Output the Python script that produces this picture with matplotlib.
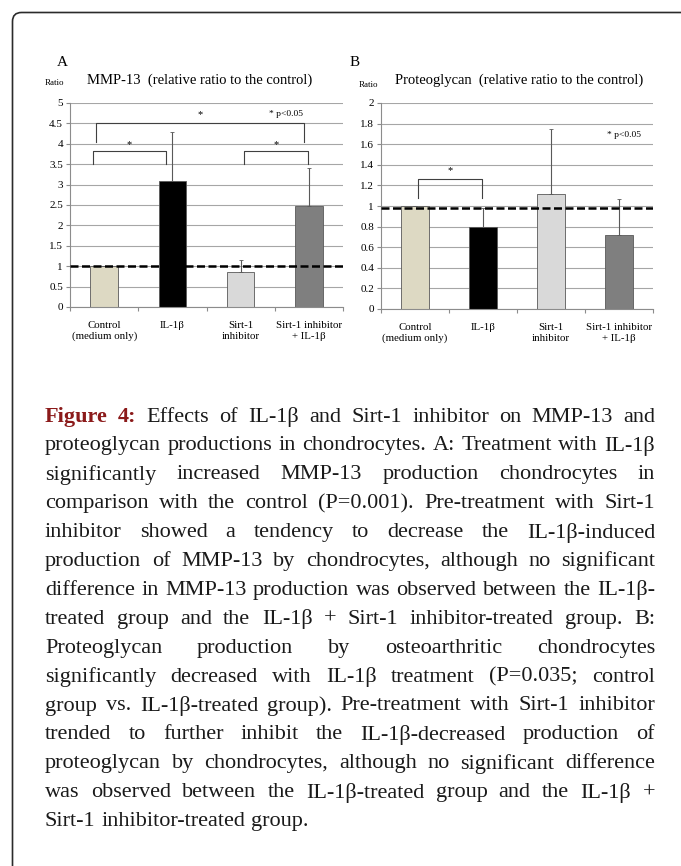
import numpy as np
import matplotlib
matplotlib.use("Agg")
import matplotlib.pyplot as plt
from matplotlib.patches import FancyBboxPatch
from matplotlib.transforms import IdentityTransform
from matplotlib.ticker import FixedLocator

# ── data ──────────────────────────────────────────────────────────────
categories = ["Control\n(medium only)", "IL-1β", "Sirt-1\ninhibitor", "Sirt-1 inhibitor\n+ IL-1β"]
bar_colors = ["#ddd9c3", "#000000", "#d9d9d9", "#7f7f7f"]

mmp_mean = [1.0, 3.1, 0.87, 2.48]
mmp_err = [0.0, 1.2, 0.28, 0.92]
pg_mean = [1.0, 0.80, 1.12, 0.72]
pg_err = [0.0, 0.18, 0.63, 0.35]

caption_lines = [
    "Figure 4: Effects of IL-1β and Sirt-1 inhibitor on MMP-13 and",
    "proteoglycan productions in chondrocytes. A: Treatment with IL-1β",
    "significantly increased MMP-13 production chondrocytes in",
    "comparison with the control (P=0.001). Pre-treatment with Sirt-1",
    "inhibitor showed a tendency to decrease the IL-1β-induced",
    "production of MMP-13 by chondrocytes, although no significant",
    "difference in MMP-13 production was observed between the IL-1β-",
    "treated group and the IL-1β + Sirt-1 inhibitor-treated group. B:",
    "Proteoglycan production by osteoarthritic chondrocytes",
    "significantly decreased with IL-1β treatment (P=0.035; control",
    "group vs. IL-1β-treated group). Pre-treatment with Sirt-1 inhibitor",
    "trended to further inhibit the IL-1β-decreased production of",
    "proteoglycan by chondrocytes, although no significant difference",
    "was observed between the IL-1β-treated group and the IL-1β +",
    "Sirt-1 inhibitor-treated group.",
]

# ── style ─────────────────────────────────────────────────────────────
SERIF = "Liberation Serif"
plt.rcParams["font.family"] = [SERIF, "DejaVu Serif"]
GRID = "#a6a6a6"
AXIS = "#8c8c8c"

W, H = 681, 866
fig = plt.figure(figsize=(W / 100, H / 100), dpi=100, facecolor="white")


def fx(px):
    return px / W


def fy(py):
    return 1 - py / H


# rounded frame (only top-left corner visible)
frame = FancyBboxPatch((12.5, -200), 900, H - 12.5 + 200,
                       boxstyle="round,pad=0,rounding_size=9",
                       transform=IdentityTransform(), fill=False,
                       edgecolor="#2b2b2b", linewidth=1.2)
fig.add_artist(frame)


def panel(ax, means, errs, ymax, step, dash_y):
    x = np.arange(len(categories))
    ax.set_axisbelow(True)
    ax.yaxis.grid(True, color=GRID, linewidth=0.8)
    ax.bar(x, means, width=0.4, color=bar_colors, edgecolor="#595959",
           linewidth=0.6, zorder=2)
    ax.errorbar(x, means, yerr=[np.zeros(len(errs)), errs], fmt="none",
                ecolor="#595959", elinewidth=0.8, capsize=1.5, capthick=0.6,
                zorder=3)
    ax.axhline(dash_y, color="black", linewidth=1.8, dashes=(3.2, 1.4), zorder=4)
    ax.set_xlim(-0.5, 3.5)
    ax.set_ylim(0, ymax)
    ticks = np.round(np.arange(0, ymax + step / 2, step), 2)
    ax.set_yticks(ticks)
    ax.set_yticklabels([f"{t:g}" for t in ticks])
    ax.set_xticks(x)
    ax.set_xticklabels(categories, fontsize=7.8, linespacing=1.25)
    ax.xaxis.set_minor_locator(FixedLocator(np.arange(-0.5, 4, 1)))
    ax.tick_params(axis="x", which="major", length=0, pad=10)
    ax.tick_params(axis="x", which="minor", length=3, color=AXIS, width=0.8)
    ax.tick_params(axis="y", length=3, color=AXIS, width=0.8, labelsize=8, pad=2)
    for s in ("top", "right"):
        ax.spines[s].set_visible(False)
    for s in ("left", "bottom"):
        ax.spines[s].set_color(AXIS)
        ax.spines[s].set_linewidth(0.8)


def bracket(ax, x1, x2, ytop, yleg, star_y):
    ax.plot([x1, x1, x2, x2], [yleg, ytop, ytop, yleg], color="#404040",
            linewidth=0.8, zorder=5)
    ax.text((x1 + x2) / 2, star_y, "*", ha="center", va="center", fontsize=7.5)


# ── panel A ───────────────────────────────────────────────────────────
axA = fig.add_axes([fx(70), fy(307), fx(273), (307 - 103) / H])
panel(axA, mmp_mean, mmp_err, 5, 0.5, 1.0)
bracket(axA, -0.16, 0.9, 3.82, 3.5, 3.97)
bracket(axA, 2.05, 2.99, 3.82, 3.5, 3.97)
bracket(axA, -0.12, 2.93, 4.5, 4.04, 4.72)
axA.text(2.42, 4.74, "* p<0.05", fontsize=6.8, ha="left", va="center")

fig.text(fx(57), fy(62), "A", fontsize=11, ha="left", va="center")
fig.text(fx(45), fy(83), "Ratio", fontsize=6.5, ha="left", va="center")
fig.text(fx(87), fy(80), "MMP-13  (relative ratio to the control)", fontsize=10.5,
         ha="left", va="center")

# ── panel B ───────────────────────────────────────────────────────────
axB = fig.add_axes([fx(381), fy(309), fx(272), (309 - 103) / H])
panel(axB, pg_mean, pg_err, 2, 0.2, 0.98)
bracket(axB, 0.05, 0.98, 1.265, 1.08, 1.34)
axB.text(2.83, 1.69, "* p<0.05", fontsize=6.8, ha="left", va="center")

fig.text(fx(350), fy(62), "B", fontsize=11, ha="left", va="center")
fig.text(fx(359), fy(85), "Ratio", fontsize=6.5, ha="left", va="center")
fig.text(fx(395), fy(80), "Proteoglycan  (relative ratio to the control)", fontsize=10.5,
         ha="left", va="center")

# ── caption (justified) ───────────────────────────────────────────────
renderer = fig.canvas.get_renderer()
left, right = 45, 655
line0, lstep = 417, 28.9


def place_words(fsize, draw):
    """measure (and optionally lay out) caption words; returns widest natural line"""
    widest = 0
    all_texts = []
    for i, line in enumerate(caption_lines):
        y = fy(line0 + i * lstep)
        words = line.split(" ")
        texts = []
        for j, w in enumerate(words):
            bold = i == 0 and j < 2
            t = fig.text(0, y, w, fontsize=fsize, ha="left", va="center",
                         fontweight="bold" if bold else "normal",
                         color="#8b1a1a" if bold else "#1a1a1a")
            texts.append(t)
        widths = [t.get_window_extent(renderer).width for t in texts]
        space = fsize * 100 / 72 * 0.25
        widest = max(widest, sum(widths) + space * (len(words) - 1))
        if draw:
            if i == len(caption_lines) - 1:
                gap = space
            else:
                gap = (right - left - sum(widths)) / (len(words) - 1)
            xpos = left
            for t, w in zip(texts, widths):
                t.set_x(fx(xpos))
                xpos += w + gap
        all_texts += texts
    if not draw:
        for t in all_texts:
            t.remove()
    return widest


fsize = 15
fsize = min(16.5, fsize * (right - left) / place_words(fsize, False) * 0.995)
place_words(fsize, True)

fig.savefig("out.png", dpi=100, facecolor="white")
